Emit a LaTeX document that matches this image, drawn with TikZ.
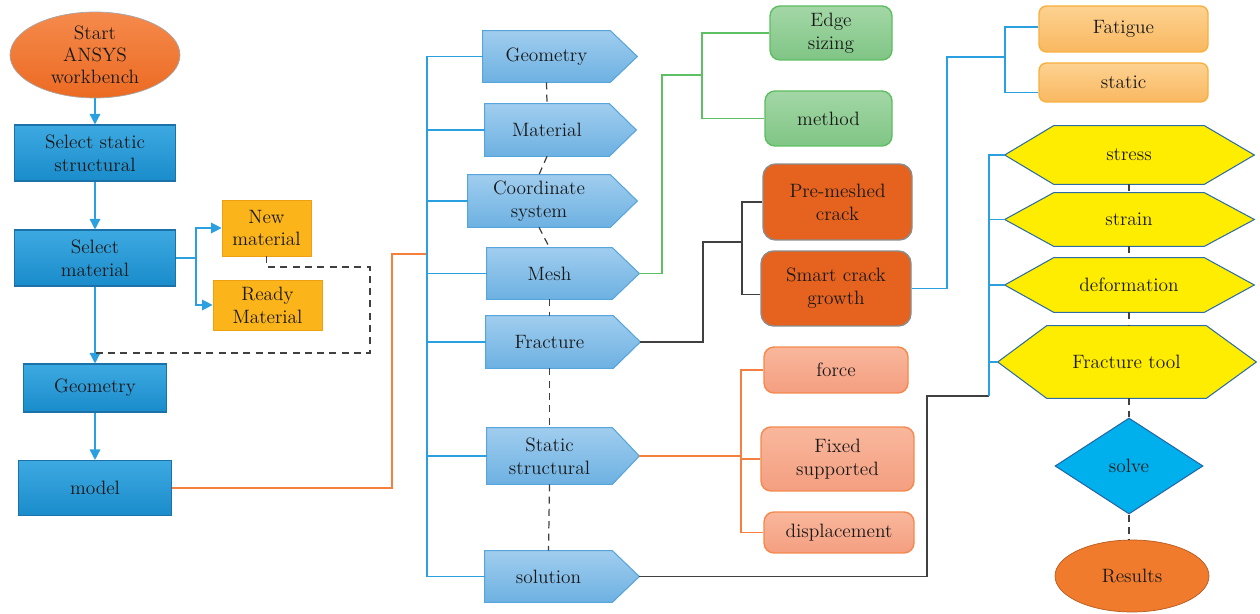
\documentclass[tikz,border=0pt]{standalone}
\usepackage{tikz}
\usetikzlibrary{shapes.geometric,arrows.meta,backgrounds}
\definecolor{starttop}{HTML}{F58A4C}
\definecolor{startbot}{HTML}{EC6A22}
\definecolor{boxtop}{HTML}{3DA9E1}
\definecolor{boxbot}{HTML}{1A8CCB}
\definecolor{boxline}{HTML}{1B72A8}
\definecolor{matfill}{HTML}{FBB41A}
\definecolor{matline}{HTML}{EFA012}
\definecolor{sigtop}{HTML}{A0CDEE}
\definecolor{sigbot}{HTML}{6DB1E2}
\definecolor{sigline}{HTML}{56A5DC}
\definecolor{greentop}{HTML}{A3D7A6}
\definecolor{greenbot}{HTML}{80C585}
\definecolor{greenline}{HTML}{5DBE61}
\definecolor{crackfill}{HTML}{E5621F}
\definecolor{crackline}{HTML}{8C8C8C}
\definecolor{fattop}{HTML}{FDD291}
\definecolor{fatbot}{HTML}{F9B860}
\definecolor{fatline}{HTML}{F8B03E}
\definecolor{pinktop}{HTML}{F9B79C}
\definecolor{pinkbot}{HTML}{F49E80}
\definecolor{pinkline}{HTML}{F5884C}
\definecolor{hexfill}{HTML}{FFED00}
\definecolor{hexline}{HTML}{2E6DA4}
\definecolor{solvefill}{HTML}{00B0EC}
\definecolor{solveline}{HTML}{2367A8}
\definecolor{resfill}{HTML}{F07B2C}
\definecolor{resline}{HTML}{B85A20}
\definecolor{linkblue}{HTML}{2AA0E0}
\definecolor{linkorange}{HTML}{F5803D}
\definecolor{linkgreen}{HTML}{5DC062}
\definecolor{linkdark}{HTML}{404040}

\begin{document}
\begin{tikzpicture}[x=0.02cm,y=-0.02cm,
  every node/.style={font=\fontsize{11}{13}\selectfont, align=center, text=black!90, inner sep=1pt},
  leftbox/.style={rectangle, draw=boxline, line width=0.6pt, top color=boxtop, bottom color=boxbot},
  matbox/.style={rectangle, fill=matfill, draw=matline, line width=0.4pt},
  sigbody/.style={rectangle},
  sigshape/.style={draw=sigline, line width=0.6pt, top color=sigtop, bottom color=sigbot},
  greenbox/.style={rectangle, rounded corners=0.2cm, draw=greenline, line width=0.8pt, top color=greentop, bottom color=greenbot},
  crackbox/.style={rectangle, rounded corners=0.25cm, draw=crackline, line width=0.8pt, fill=crackfill},
  fatbox/.style={rectangle, rounded corners=0.15cm, draw=fatline, line width=0.8pt, top color=fattop, bottom color=fatbot},
  pinkbox/.style={rectangle, rounded corners=0.2cm, draw=pinkline, line width=0.8pt, top color=pinktop, bottom color=pinkbot},
  hexbody/.style={rectangle, minimum width=3cm},
  hexshape/.style={draw=hexline, line width=0.6pt, fill=hexfill},
  bluearrow/.style={draw=linkblue, line width=0.8pt, -{Triangle[length=6pt,width=6pt]}},
  blueline/.style={draw=linkblue, line width=0.6pt},
  orangeline/.style={draw=linkorange, line width=0.7pt},
  greenlink/.style={draw=linkgreen, line width=0.7pt},
  darkline/.style={draw=linkdark, line width=0.7pt},
  dashline/.style={draw=linkdark, line width=0.7pt, dash pattern=on 4pt off 3pt}]
\useasboundingbox (0,0) rectangle (1260,614);

\node[ellipse, inner sep=0pt, top color=starttop, bottom color=startbot, draw=gray!70, minimum width=3.4cm, minimum height=1.72cm, font=\fontsize{11}{12.5}\selectfont] (start) at (95,55) {Start\\ANSYS\\workbench};
\node[leftbox, minimum width=3.22cm, minimum height=1.12cm] (selstat) at (95,153) {Select static\\structural};
\node[leftbox, minimum width=3.22cm, minimum height=1.12cm] (selmat) at (95,258) {Select\\material};
\node[matbox, minimum width=1.78cm, minimum height=1.12cm] (newmat) at (266.5,228) {New\\material};
\node[matbox, minimum width=2.18cm, minimum height=1cm] (readymat) at (267.5,305) {Ready\\Material};
\node[leftbox, minimum width=2.86cm, minimum height=0.96cm] (geom) at (95,388) {Geometry};
\node[leftbox, minimum width=3.06cm, minimum height=1.1cm] (model) at (95,488) {model};

\node[sigbody, minimum width=2.54cm, minimum height=1.02cm] (pgeom) at (546.5,56.5) {Geometry};
\node[sigbody, minimum width=2.48cm, minimum height=1.04cm] (pmat) at (547,130) {Material};
\node[sigbody, minimum width=2.84cm, minimum height=1.04cm] (pcoord) at (539,201) {Coordinate\\system};
\node[sigbody, minimum width=2.5cm, minimum height=1.02cm] (pmesh) at (549.5,273.5) {Mesh};
\node[sigbody, minimum width=2.54cm, minimum height=1.04cm] (pfrac) at (549.5,342) {Fracture};
\node[sigbody, minimum width=2.5cm, minimum height=1.12cm] (pstat) at (549.5,456) {Static\\structural};
\node[sigbody, minimum width=2.54cm, minimum height=1.02cm] (psol) at (548.5,576.5) {solution};
\foreach \n in {pgeom,pmat,pcoord,pmesh,pfrac,pstat,psol}
  \coordinate (\n-tip) at ([xshift=0.54cm]\n.east);

\node[greenbox, minimum width=2.44cm, minimum height=1.08cm] (edge) at (831,33) {Edge\\sizing};
\node[greenbox, minimum width=2.54cm, minimum height=1.1cm] (method) at (828.5,118.5) {method};
\node[crackbox, minimum width=2.98cm, minimum height=1.52cm] (premesh) at (837.5,202) {Pre-meshed\\crack};
\node[crackbox, minimum width=3cm, minimum height=1.5cm] (smart) at (836,288.5) {Smart crack\\growth};
\node[fatbox, minimum width=3.38cm, minimum height=0.92cm] (fatigue) at (1123.5,29) {Fatigue};
\node[fatbox, minimum width=3.38cm, minimum height=0.78cm] (static) at (1123.5,82.5) {static};
\node[pinkbox, minimum width=2.88cm, minimum height=0.92cm] (force) at (836,370) {force};
\node[pinkbox, minimum width=3.06cm, minimum height=1.28cm] (fixed) at (837.5,459) {Fixed\\supported};
\node[pinkbox, minimum width=3cm, minimum height=0.82cm] (displ) at (839,532.5) {displacement};

\node[hexbody, minimum height=1.16cm] (stress) at (1129,155) {stress};
\node[hexbody, minimum height=1.06cm] (strain) at (1129,219.5) {strain};
\node[hexbody, minimum height=1.08cm] (deform) at (1129,285) {deformation};
\node[hexbody, minimum width=3.18cm, minimum height=1.44cm] (fractool) at (1126.5,362) {Fracture tool};
\foreach \n in {stress,strain,deform,fractool} {
  \coordinate (\n-tip) at ([xshift=-0.98cm]\n.west);
  \coordinate (\n-rtip) at ([xshift=1cm]\n.east);
}
\node[diamond, aspect=1.54, inner sep=0pt, fill=solvefill, draw=solveline, line width=0.6pt, minimum width=2.96cm, minimum height=1.92cm] (solve) at (1129,466) {solve};
\node[ellipse, fill=resfill, draw=resline, line width=0.4pt, minimum width=3.08cm, minimum height=1.44cm] (results) at (1132,576) {Results};

\begin{scope}[on background layer]
\foreach \n in {pgeom,pmat,pcoord,pmesh,pfrac,pstat,psol}
  \draw[sigshape] (\n.north west) -- (\n.north east) -- (\n-tip) -- (\n.south east) -- (\n.south west) -- cycle;
\foreach \n in {stress,strain,deform,fractool}
  \draw[hexshape] (\n.north west) -- (\n.north east) -- (\n-rtip) -- (\n.south east) -- (\n.south west) -- (\n-tip) -- cycle;
\end{scope}

\coordinate (matfork) at (196,258);
\coordinate (dashcorner) at (370,267);
\coordinate (dashend) at (95,353);
\draw[bluearrow] (start) -- (selstat);
\draw[bluearrow] (selstat) -- (selmat);
\draw[bluearrow] (selmat) -- (geom);
\draw[bluearrow] (geom) -- (model);
\draw[bluearrow] (selmat.east) -- (matfork) |- (newmat.west);
\draw[bluearrow] (matfork) |- (readymat.west);
\draw[dashline] (newmat.south) |- (dashcorner) |- (dashend);

\coordinate (trunk) at (427,56.5);
\coordinate (modeljoin) at (392,254);
\draw[orangeline] (model.east) -| (modeljoin) -- (trunk |- modeljoin);
\draw[blueline] (pgeom.west) -- (trunk) |- (psol.west);
\foreach \n in {pmat,pcoord,pmesh,pfrac,pstat}
  \draw[blueline] (trunk |- \n.west) -- (\n.west);
\draw[dashline] (pgeom.south) -- (pmat.north);
\draw[dashline] (pmat.south) -- (pcoord.north);
\draw[dashline] (pcoord.south) -- (pmesh.north);
\draw[dashline] (pmesh.south) -- (pfrac.north);
\draw[dashline] (pfrac.south) -- (pstat.north);
\draw[dashline] (pstat.south) -- (psol.north);

\coordinate (meshbend) at (662,75);
\coordinate (meshfork) at (702,75);
\draw[greenlink] (pmesh-tip) -| (meshbend) -- (meshfork);
\draw[greenlink] (edge.west) -| (meshfork) |- (method.west);

\coordinate (fracbend) at (703,242);
\coordinate (fracfork) at (742,242);
\draw[darkline] (pfrac-tip) -| (fracbend) -- (fracfork);
\draw[darkline] (premesh.west) -| (fracfork) |- ([yshift=-0.12cm]smart.west);

\coordinate (smartbend) at (947,57);
\coordinate (smartfork) at (1005,57);
\draw[blueline] (smart.east) -| (smartbend) -- (smartfork);
\draw[blueline] ([yshift=0.04cm]fatigue.west) -| (smartfork) |- ([yshift=-0.2cm]static.west);

\coordinate (statfork) at (741,456);
\draw[orangeline] (pstat-tip) -- (statfork);
\draw[orangeline] (force.west) -| (statfork) |- (displ.west);
\draw[orangeline] (statfork) |- (fixed.west);

\coordinate (hexfork) at (989,396);
\coordinate (solbend) at (927,396);
\draw[darkline] (psol-tip) -| (solbend) -- (hexfork);
\draw[blueline] (stress-tip) -| (hexfork);
\foreach \n in {strain,deform,fractool}
  \draw[blueline] (hexfork |- \n-tip) -- (\n-tip);
\draw[dashline] (stress.south) -- (strain.north);
\draw[dashline] (strain.south) -- (deform.north);
\draw[dashline] (deform.south) -- (deform.south |- fractool.north);
\draw[dashline] (solve.north |- fractool.south) -- (solve.north);
\draw[dashline] (solve.south) -- (solve.south |- results.north);
\end{tikzpicture}
\end{document}
